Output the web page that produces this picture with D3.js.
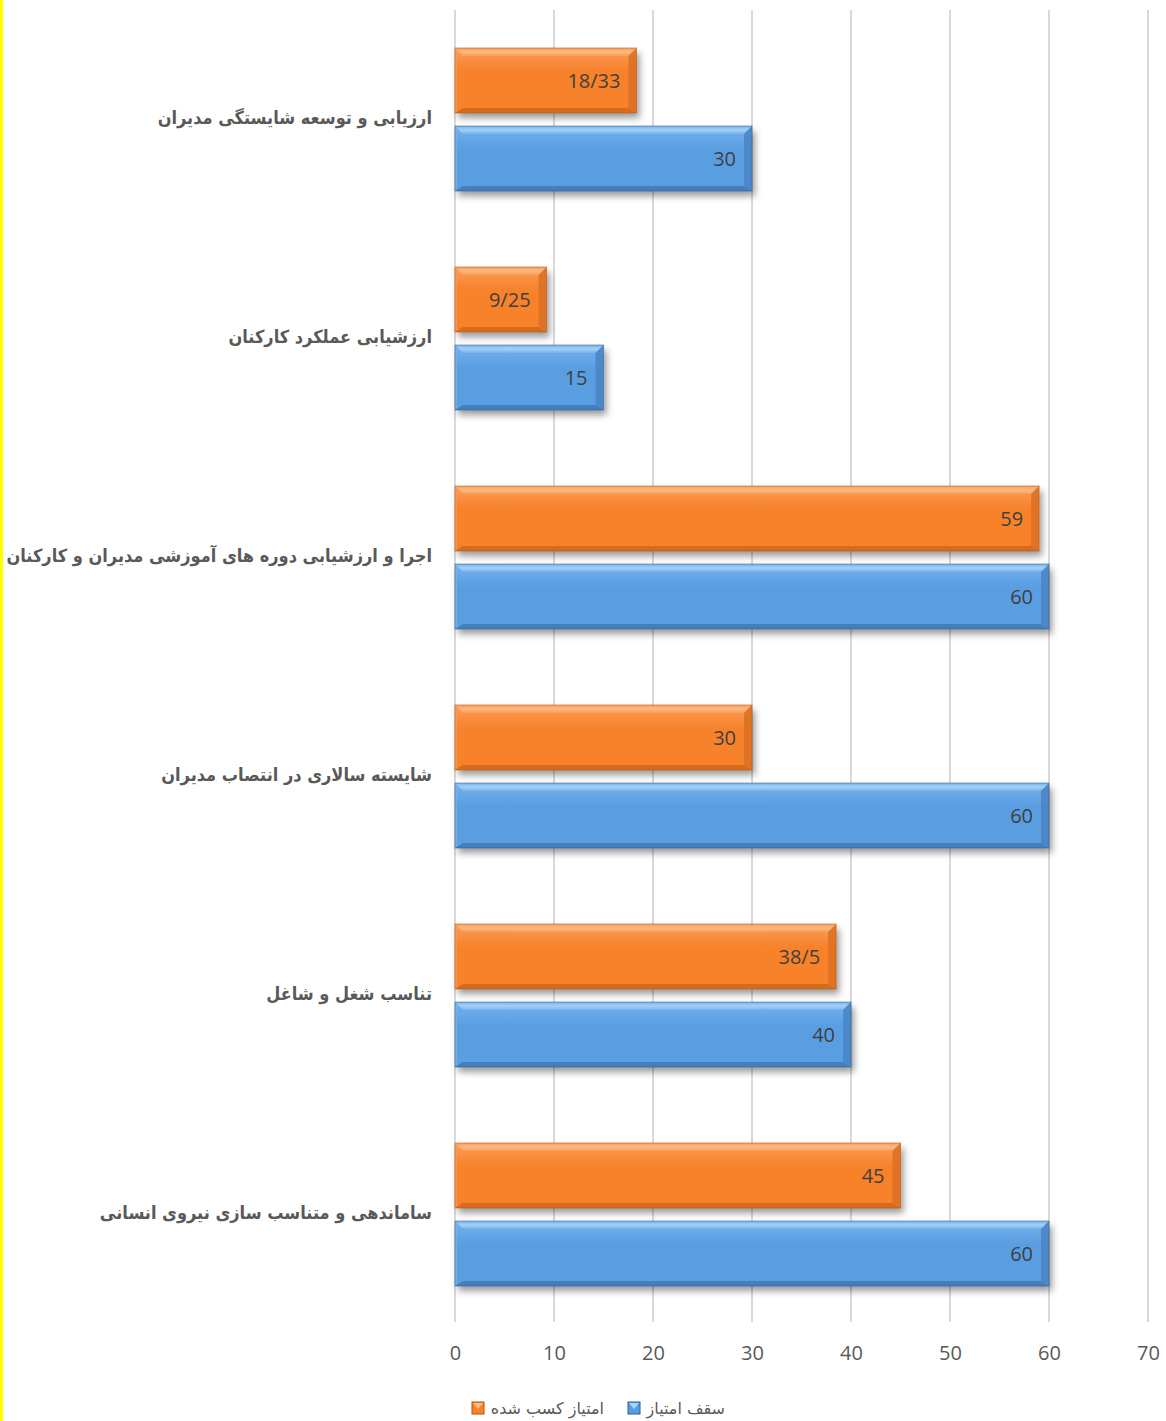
<!DOCTYPE html>
<html><head><meta charset="utf-8">
<script src="https://cdn.jsdelivr.net/npm/d3@7"></script>
<style>
html,body{margin:0;padding:0;background:#fff;}
svg{display:block;}
</style></head>
<body>
<script>
const categories = [
  "ارزیابی و توسعه شایستگی مدیران",
  "ارزشیابی عملکرد کارکنان",
  "اجرا و ارزشیابی دوره های آموزشی مدیران و کارکنان",
  "شایسته سالاری در انتصاب مدیران",
  "تناسب شغل و شاغل",
  "ساماندهی و متناسب سازی نیروی انسانی"
];
const seriesNames = ["امتیاز کسب شده", "سقف امتیاز"];
const earned = [18.33, 9.25, 59, 30, 38.5, 45];
const maxScore = [30, 15, 60, 60, 40, 60];
const xTicks = [0, 10, 20, 30, 40, 50, 60, 70];

const W = 1166, H = 1421;
const svg = d3.select("body").append("svg").attr("width", W).attr("height", H);

svg.append("rect").attr("x",0).attr("y",0).attr("width",3).attr("height",H).attr("fill","#FFFF00");

const defs = svg.append("defs");
const f = defs.append("filter").attr("id","shadow").attr("x","-5%").attr("y","-20%").attr("width","115%").attr("height","160%");
f.append("feDropShadow").attr("dx",3).attr("dy",5).attr("stdDeviation",3.5).attr("flood-color","#000").attr("flood-opacity",0.4);

const palettes = {
  orange: {main:"#F7822C", light:"#FB9D57", top:"#FDBE8A", dark:"#C96419", side:"#DB7023", edge:"#B45410", left:"#F99A55"},
  blue:   {main:"#5A9EE2", light:"#75B2EC", top:"#A9D5F8", dark:"#3E74AD", side:"#4A84C4", edge:"#2E5C8E", left:"#78B2EB"}
};
[["orange",palettes.orange],["blue",palettes.blue]].forEach(([k,p])=>{
  const g = defs.append("linearGradient").attr("id","g-"+k).attr("x1",0).attr("y1",0).attr("x2",0).attr("y2",1);
  g.append("stop").attr("offset","0%").attr("stop-color",p.light);
  g.append("stop").attr("offset","35%").attr("stop-color",p.main);
  g.append("stop").attr("offset","100%").attr("stop-color",p.main);
  const t = defs.append("linearGradient").attr("id","t-"+k).attr("x1",0).attr("y1",0).attr("x2",0).attr("y2",1);
  t.append("stop").attr("offset","0%").attr("stop-color",p.light);
  t.append("stop").attr("offset","50%").attr("stop-color",p.top);
  t.append("stop").attr("offset","100%").attr("stop-color",p.light);
});

const x = d3.scaleLinear().domain([0,70]).range([455,1148]);
const y = d3.scaleBand().domain(categories).range([10,1324]).padding(0);
const yInner = d3.scaleBand().domain(seriesNames).range([0,y.bandwidth()]).paddingInner(0.1667).paddingOuter(0.487);

svg.append("g").selectAll("line").data(xTicks).join("line")
  .attr("x1",d=>x(d)).attr("x2",d=>x(d)).attr("y1",10).attr("y2",1322)
  .attr("stroke","#D9D9D9").attr("stroke-width",2);

const axis = svg.append("g").attr("transform","translate(0,1338)")
  .call(d3.axisBottom(x).tickValues(xTicks).tickSize(0).tickPadding(8));
axis.select(".domain").remove();
axis.selectAll("text").attr("font-family","'Open Sans', sans-serif").attr("font-size",20).attr("fill","#595959");

svg.append("g").selectAll("text").data(categories).join("text")
  .attr("transform",d=>`translate(432,${y(d)+y.bandwidth()/2 - 2}) scale(0.9,1)`)
  .attr("text-anchor","end").attr("dominant-baseline","central")
  .attr("font-family","'DejaVu Sans', sans-serif").attr("font-weight","bold")
  .attr("font-size",18).attr("fill","#595959")
  .text(d=>d);

const fmt = v => String(v).replace(".","/");

const rows = [];
categories.forEach((c,i)=>{
  rows.push({cat:c, s:seriesNames[0], v:earned[i], pal:"orange"});
  rows.push({cat:c, s:seriesNames[1], v:maxScore[i], pal:"blue"});
});

const bw = yInner.bandwidth();
const bev = 8;
const bars = svg.append("g").selectAll("g").data(rows).join("g")
  .attr("transform",d=>`translate(${x(0)},${y(d.cat)+yInner(d.s)})`);

bars.each(function(d){
  const g = d3.select(this);
  const w = x(d.v)-x(0);
  const p = palettes[d.pal];
  const b = Math.min(bev, w/2);
  g.append("rect").attr("width",w).attr("height",bw).attr("fill","url(#g-"+d.pal+")").attr("filter","url(#shadow)");
  g.append("polygon").attr("points",`0,0 ${w},0 ${w-b},${b} ${b},${b}`).attr("fill","url(#t-"+d.pal+")").attr("opacity",0.9);
  g.append("polygon").attr("points",`0,${bw} ${w},${bw} ${w-b},${bw-b+3} ${b},${bw-b+3}`).attr("fill",p.dark).attr("opacity",0.75);
  g.append("polygon").attr("points",`${w},0 ${w},${bw} ${w-b},${bw-b+3} ${w-b},${b}`).attr("fill",p.side).attr("opacity",0.85);
  g.append("polygon").attr("points",`0,0 0,${bw} 2,${bw-2} 2,2`).attr("fill",p.left).attr("opacity",0.8);
  g.append("rect").attr("width",w).attr("height",bw).attr("fill","none").attr("stroke",p.edge).attr("stroke-width",1).attr("opacity",0.5);
  g.append("text").attr("x",w-16).attr("y",bw/2).attr("text-anchor","end").attr("dominant-baseline","central")
    .attr("font-family","'Open Sans', sans-serif").attr("font-size",20).attr("fill","#404040")
    .text(fmt(d.v));
});

const leg = svg.append("g").attr("transform","translate(0,1408)");
const legItems = [
  {name:seriesNames[0], pal:"orange", mx:472, tx:604},
  {name:seriesNames[1], pal:"blue", mx:628, tx:725}
];
legItems.forEach(it=>{
  const p = palettes[it.pal];
  leg.append("rect").attr("x",it.mx).attr("y",-6).attr("width",12).attr("height",12).attr("fill",p.main).attr("stroke",p.edge).attr("stroke-width",1);
  leg.append("polygon").attr("points",`${it.mx+1},${-5} ${it.mx+11},${-5} ${it.mx+6},${1}`).attr("fill",p.top);
  leg.append("text").attr("x",it.tx).attr("y",0).attr("text-anchor","end").attr("dominant-baseline","central")
    .attr("font-family","'DejaVu Sans', sans-serif").attr("font-size",16).attr("fill","#595959")
    .text(it.name);
});
</script>
</body></html>
